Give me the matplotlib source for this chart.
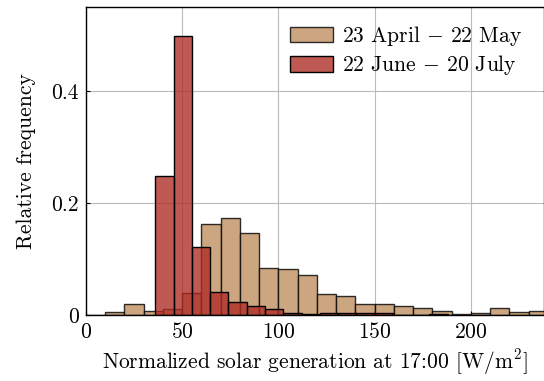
import numpy as np
import matplotlib
matplotlib.use("Agg")
import matplotlib.pyplot as plt

plt.rcParams['font.family'] = 'serif'
plt.rcParams['font.serif'] = ['cmr10']
plt.rcParams['mathtext.fontset'] = 'cm'
plt.rcParams['axes.formatter.use_mathtext'] = True

# spring: bins of 10 W/m2 from 0 to 240
spring_edges = [0, 10, 20, 30, 40, 50, 60, 70, 80, 90, 100, 110, 120,
                130, 140, 150, 160, 170, 180, 190, 200, 210, 220, 230, 240]
spring_freq = [0.001, 0.005, 0.020, 0.008, 0.010, 0.039, 0.163, 0.173,
               0.146, 0.084, 0.083, 0.071, 0.038, 0.034, 0.020, 0.019,
               0.017, 0.013, 0.007, 0.002, 0.004, 0.013, 0.006, 0.008]

# summer: bins of 9.5 W/m2 from 36
summer_edges = [36, 45.5, 55, 64.5, 74, 83.5, 93, 102.5, 112, 121.5, 131,
                140.5, 150, 159.5, 169, 178.5, 188]
summer_freq = [0.248, 0.498, 0.121, 0.041, 0.024, 0.017, 0.011, 0.003,
               0.002, 0.004, 0.004, 0.004, 0.004, 0.0, 0.0, 0.002]

labels = [r"23 April $-$ 22 May", r"22 June $-$ 20 July"]

fig = plt.figure(figsize=(5.44, 3.81), dpi=100)
ax = fig.add_axes([0.158, 0.173, 0.842, 0.809])

ax.hist(spring_edges[:-1], bins=spring_edges, weights=spring_freq,
        color=(204/255, 166/255, 128/255), edgecolor=(0, 0, 0, 0.8),
        linewidth=1.0, label=labels[0])
ax.hist(summer_edges[:-1], bins=summer_edges, weights=summer_freq,
        color=(174/255, 42/255, 36/255, 0.78), edgecolor='black',
        linewidth=1.0, label=labels[1])

ax.set_xlim(0, 238)
ax.set_ylim(0, 0.55)
ax.set_xticks([0, 50, 100, 150, 200])
ax.set_yticks([0, 0.2, 0.4])
ax.set_yticklabels(['0', '0.2', '0.4'])
ax.tick_params(direction='in', length=3, labelsize=15.5, pad=5)
ax.grid(True, color='#bbbbbb', linewidth=0.8)
ax.set_axisbelow(True)

ax.set_xlabel(r"Normalized solar generation at 17:00 [W/m$^2$]", fontsize=15.5, labelpad=4)
ax.set_ylabel("Relative frequency", fontsize=15.5, labelpad=11)

ax.legend(loc='upper right', bbox_to_anchor=(0.99, 1.0), frameon=False,
          fontsize=15.5, handlelength=2.0, handleheight=0.75,
          handletextpad=0.4, labelspacing=0.25, borderaxespad=0.4)

for s in ax.spines.values():
    s.set_linewidth(1.0)

fig.savefig("out.png", dpi=100)
